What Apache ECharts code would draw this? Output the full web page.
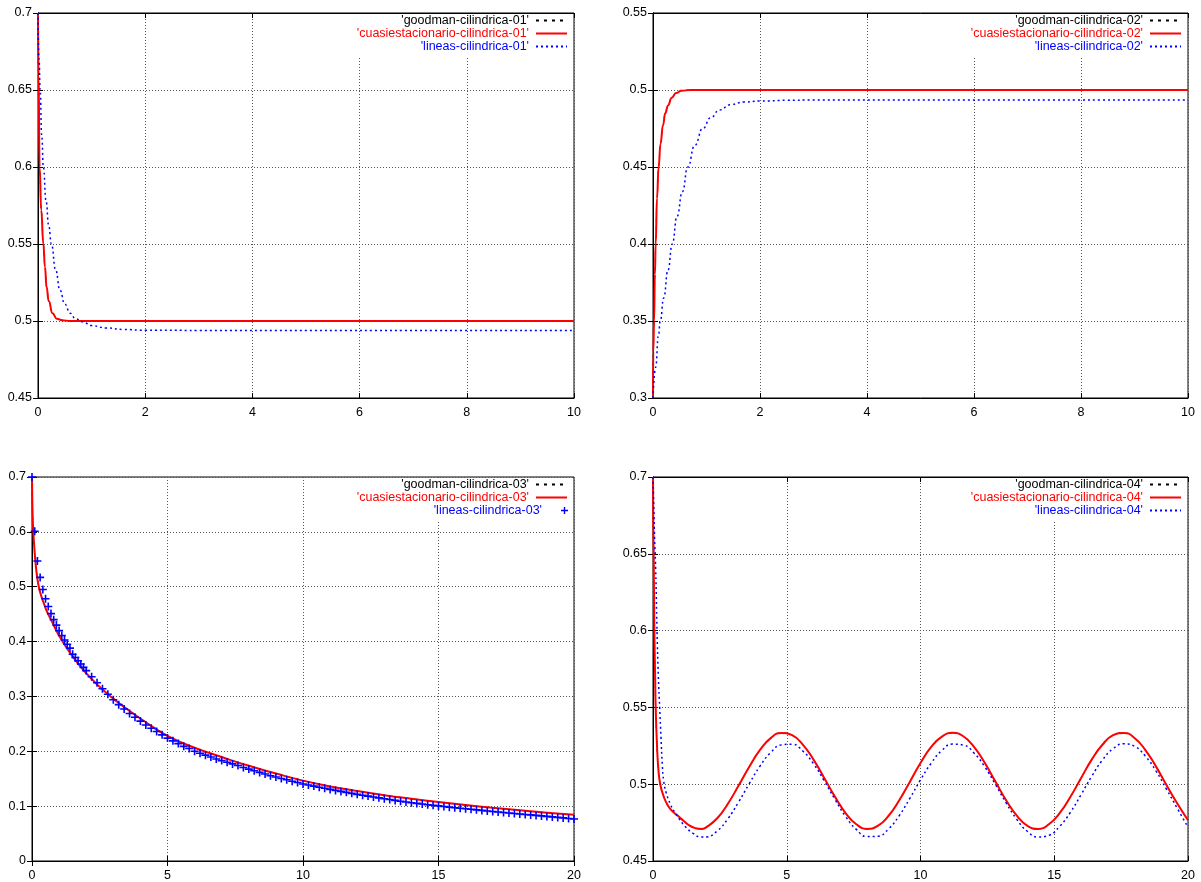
<!DOCTYPE html>
<html>
<head>
<meta charset="utf-8">
<title>cilindrica</title>
<script src="https://cdn.jsdelivr.net/npm/echarts@6/dist/echarts.min.js"></script>
<style>
html, body { margin: 0; padding: 0; background: #fff; }
#main { width: 1201px; height: 882px; }
</style>
</head>
<body>
<div id="main"></div>
<script>
// [x, y] pairs
var cuasi01 = [[0,0.70],[0.01,0.66],[0.03,0.60],[0.06,0.572],[0.1,0.55],[0.13,0.535],[0.16,0.522],[0.2,0.513],[0.27,0.505],[0.35,0.5015],[0.45,0.5005],[0.6,0.5],[1,0.5],[2,0.5],[10,0.5]];
var lineas01 = [[0,0.70],[0.02,0.67],[0.04,0.65],[0.07,0.62],[0.1,0.60],[0.15,0.578],[0.2,0.562],[0.25,0.55],[0.33,0.533],[0.41,0.52],[0.5,0.511],[0.6,0.505],[0.7,0.5015],[0.83,0.4995],[1.0,0.497],[1.27,0.4955],[1.6,0.4945],[2,0.494],[3,0.4939],[10,0.4939]];

var cuasi02 = [[0,0.30],[0.005,0.33],[0.02,0.35],[0.035,0.38],[0.05,0.40],[0.075,0.43],[0.105,0.45],[0.14,0.465],[0.186,0.477],[0.23,0.485],[0.28,0.49],[0.35,0.495],[0.43,0.498],[0.53,0.4995],[0.7,0.5],[2,0.5],[10,0.5]];
var lineas02 = [[0,0.30],[0.05,0.32],[0.1,0.34],[0.136,0.35],[0.2,0.365],[0.28,0.383],[0.36,0.40],[0.45,0.418],[0.55,0.434],[0.65,0.45],[0.78,0.464],[0.93,0.475],[1.08,0.482],[1.24,0.487],[1.45,0.4905],[1.7,0.4922],[2,0.4928],[2.5,0.4933],[3,0.4935],[10,0.4935]];

var cuasi03 = [[0,0.70],[0.01,0.66],[0.03,0.62],[0.05,0.60],[0.08,0.575],[0.12,0.55],[0.17,0.525],[0.25,0.50],[0.35,0.482],[0.45,0.468],[0.55,0.455],[0.7,0.44],[0.9,0.42],[1.17,0.397],[1.5,0.373],[1.9,0.348],[2.4,0.322],[2.9,0.300],[3.5,0.277],[4.2,0.253],[5,0.228],[6,0.2065],[7,0.1895],[8,0.1735],[9,0.1595],[10,0.1465],[11,0.136],[12,0.1275],[13,0.120],[14,0.1135],[15,0.1075],[16,0.102],[17,0.097],[18,0.0925],[19,0.088],[20,0.0841]];
var lineas03 = [[0,0.700],[0.1,0.601],[0.2,0.547],[0.3,0.517],[0.4,0.495],[0.5,0.478],[0.6,0.464],[0.7,0.451],[0.8,0.440],[0.9,0.430],[1.0,0.420],[1.1,0.411],[1.2,0.403],[1.3,0.395],[1.4,0.388],[1.5,0.377],[1.6,0.371],[1.7,0.365],[1.8,0.359],[1.9,0.353],[2.0,0.347],
  [2.2,0.336],[2.4,0.325],[2.6,0.314],[2.8,0.304],[3.0,0.294],[3.2,0.285],[3.4,0.277],[3.6,0.269],[3.8,0.262],[4.0,0.255],[4.2,0.248],[4.4,0.242],[4.6,0.236],[4.8,0.230],[5.0,0.224],
  [5.2,0.219],[5.4,0.214],[5.6,0.209],[5.8,0.205],[6.0,0.200],[6.2,0.1965],[6.4,0.193],[6.6,0.1895],[6.8,0.186],[7.0,0.183],[7.2,0.180],[7.4,0.177],[7.6,0.174],[7.8,0.1705],[8.0,0.1675],
  [8.2,0.1645],[8.4,0.1615],[8.6,0.1585],[8.8,0.1555],[9.0,0.153],[9.2,0.1505],[9.4,0.148],[9.6,0.1455],[9.8,0.143],[10.0,0.1405],
  [10.2,0.1385],[10.4,0.1365],[10.6,0.1345],[10.8,0.1325],[11.0,0.1305],[11.2,0.1287],[11.4,0.1269],[11.6,0.1251],[11.8,0.1233],[12.0,0.1215],
  [12.2,0.1199],[12.4,0.1183],[12.6,0.1167],[12.8,0.1151],[13.0,0.1135],[13.2,0.1120],[13.4,0.1105],[13.6,0.1090],[13.8,0.1076],[14.0,0.1062],
  [14.2,0.1050],[14.4,0.1038],[14.6,0.1026],[14.8,0.1015],[15.0,0.1004],[15.2,0.0993],[15.4,0.0982],[15.6,0.0972],[15.8,0.0962],[16.0,0.0952],
  [16.2,0.0942],[16.4,0.0932],[16.6,0.0922],[16.8,0.0912],[17.0,0.0903],[17.2,0.0894],[17.4,0.0885],[17.6,0.0876],[17.8,0.0867],[18.0,0.0858],
  [18.2,0.0849],[18.4,0.0840],[18.6,0.0831],[18.8,0.0822],[19.0,0.0813],[19.2,0.0804],[19.4,0.0795],[19.6,0.0786],[19.8,0.0776],[20.0,0.0765]];

var cuasi04 = [[0,0.70],[0.01,0.67],[0.025,0.65],[0.05,0.60],[0.08,0.57],[0.1,0.55],[0.15,0.525],[0.2,0.51],[0.27,0.50],[0.4,0.492],[0.56,0.486],[0.75,0.482],[0.93,0.4794],[1.15,0.476],[1.37,0.473],[1.6,0.4713],[1.8,0.4708],
  [2.0,0.4721],[2.4,0.4778],[2.8,0.4873],[3.2,0.4991],[3.6,0.5114],[4.0,0.5223],[4.4,0.5300],[4.8,0.5334],[5.2,0.5319],[5.6,0.5258],[6.0,0.5160],[6.4,0.5041],[6.8,0.4919],[7.2,0.4812],[7.6,0.4739],[8.0,0.4709],
  [8.4,0.4728],[8.8,0.4793],[9.2,0.4894],[9.6,0.5015],[10.0,0.5138],[10.4,0.5243],[10.8,0.5310],[11.2,0.5335],[11.6,0.5312],[12.0,0.5243],[12.4,0.5139],[12.8,0.5017],[13.2,0.4896],[13.6,0.4795],[14.0,0.4729],
  [14.4,0.4709],[14.8,0.4739],[15.2,0.4811],[15.6,0.4917],[16.0,0.5039],[16.4,0.5160],[16.8,0.5257],[17.2,0.5319],[17.6,0.5334],[18.0,0.5301],[18.4,0.5224],[18.8,0.5116],[19.2,0.4993],[19.6,0.4875],[20.0,0.4765]];
var lineas04 = [[0,0.70],[0.03,0.68],[0.06,0.66],[0.1,0.64],[0.15,0.60],[0.2,0.57],[0.25,0.55],[0.3,0.53],[0.35,0.512],[0.4,0.502],[0.5,0.494],[0.65,0.487],[0.8,0.482],[1.0,0.477],[1.2,0.4725],[1.5,0.468],[1.8,0.4656],
  [2.0,0.4657],[2.4,0.4695],[2.8,0.4775],[3.2,0.4884],[3.6,0.5004],[4.0,0.5118],[4.4,0.5206],[4.8,0.5256],[5.2,0.5260],[5.6,0.5216],[6.0,0.5133],[6.4,0.5022],[6.8,0.4902],[7.2,0.4790],[7.6,0.4706],[8.0,0.4659],
  [8.4,0.4661],[8.8,0.4708],[9.2,0.4794],[9.6,0.4907],[10.0,0.5028],[10.4,0.5137],[10.8,0.5220],[11.2,0.5261],[11.6,0.5255],[12.0,0.5203],[12.4,0.5114],[12.8,0.4999],[13.2,0.4878],[13.6,0.4771],[14.0,0.4692],
  [14.4,0.4656],[14.8,0.4667],[15.2,0.4725],[15.6,0.4816],[16.0,0.4931],[16.4,0.5051],[16.8,0.5157],[17.2,0.5231],[17.6,0.5263],[18.0,0.5247],[18.4,0.5184],[18.8,0.5087],[19.2,0.4966],[19.6,0.4843],[20.0,0.4720]];

// the goodman curves sit right under the red ones
var goodman01 = cuasi01;
var goodman02 = cuasi02;
var goodman03 = cuasi03;
var goodman04 = cuasi04;

var suffixes = ['01', '02', '03', '04'];
var goodman = [goodman01, goodman02, goodman03, goodman04];
var cuasi = [cuasi01, cuasi02, cuasi03, cuasi04];
var lineas = [lineas01, lineas02, lineas03, lineas04];
var xRange = [[0, 10, 2], [0, 10, 2], [0, 20, 5], [0, 20, 5]];
var yRange = [[0.45, 0.7, 0.05], [0.3, 0.55, 0.05], [0, 0.7, 0.1], [0.45, 0.7, 0.05]];

var FONT = "'Liberation Sans', Arial, sans-serif";
var PLUS = 'path://M4,0h2v4h4v2h-4v4h-2v-4h-4v-2h4z';

// plot boxes: left, top, right, bottom in pixels
var boxes = [
    [38, 13, 574, 398],
    [653, 13, 1188, 398],
    [32, 477, 574, 862],
    [653, 477, 1188, 862]
];

var grids = [], xAxes = [], yAxes = [], series = [], legends = [], graphics = [];

function build_plot(i) {
    var b = boxes[i];
    var sfx = suffixes[i];
    // the first two plots have a sharp knee, keep those from overshooting
    var mono = (i < 2) ? 'x' : undefined;
    grids.push({
	left: b[0], top: b[1], width: b[2] - b[0], height: b[3] - b[1],
	show: true, borderColor: '#000', borderWidth: 1, backgroundColor: 'transparent'
    });
    var grid_line = { show: true, lineStyle: { color: '#555', type: [1, 2], width: 1 } };
    xAxes.push({
	type: 'value', gridIndex: i, position: 'bottom',
	min: xRange[i][0], max: xRange[i][1], interval: xRange[i][2],
	axisLine: { lineStyle: { color: '#000' } },
	axisTick: { inside: true, length: 5, lineStyle: { color: '#000' } },
	axisLabel: { color: '#000', fontFamily: FONT, fontSize: 12.5, margin: 8 },
	splitLine: grid_line
    });
    xAxes.push({
	type: 'value', gridIndex: i, position: 'top',
	min: xRange[i][0], max: xRange[i][1], interval: xRange[i][2],
	axisLine: { lineStyle: { color: '#000' } },
	axisTick: { inside: true, length: 5, lineStyle: { color: '#000' } },
	axisLabel: { show: false }, splitLine: { show: false }
    });
    yAxes.push({
	type: 'value', gridIndex: i, position: 'left',
	min: yRange[i][0], max: yRange[i][1], interval: yRange[i][2],
	axisLine: { show: true, lineStyle: { color: '#000' } },
	axisTick: { show: true, inside: true, length: 5, lineStyle: { color: '#000' } },
	axisLabel: { color: '#000', fontFamily: FONT, fontSize: 12.5, margin: 6 },
	splitLine: grid_line
    });
    yAxes.push({
	type: 'value', gridIndex: i, position: 'right',
	min: yRange[i][0], max: yRange[i][1], interval: yRange[i][2],
	axisLine: { show: true, lineStyle: { color: '#000' } },
	axisTick: { show: true, inside: true, length: 5, lineStyle: { color: '#000' } },
	axisLabel: { show: false }, splitLine: { show: false }
    });

    var xi = 2 * i, yi = 2 * i;
    var nGood = "'goodman-cilindrica-" + sfx + "'";
    var nCuasi = "'cuasiestacionario-cilindrica-" + sfx + "'";
    var nLin = "'lineas-cilindrica-" + sfx + "'";
    series.push({
	name: nGood, type: 'line', xAxisIndex: xi, yAxisIndex: yi, data: goodman[i],
	symbol: 'none', smooth: 0.5, smoothMonotone: mono, z: 2,
	lineStyle: { color: '#000', width: 1, type: [3, 5] }, itemStyle: { color: '#000' }
    });
    series.push({
	name: nCuasi, type: 'line', xAxisIndex: xi, yAxisIndex: yi, data: cuasi[i],
	symbol: 'none', smooth: 0.5, smoothMonotone: mono, z: 3,
	lineStyle: { color: '#ff0000', width: 2 }, itemStyle: { color: '#ff0000' }
    });
    if (i == 2) {
	series.push({
	    name: nLin, type: 'scatter', xAxisIndex: xi, yAxisIndex: yi, data: lineas[i],
	    symbol: PLUS, symbolSize: 8, z: 4,
	    itemStyle: { color: '#0000ff', opacity: 1 }
	});
    } else {
	series.push({
	    name: nLin, type: 'line', xAxisIndex: xi, yAxisIndex: yi, data: lineas[i],
	    symbol: 'none', smooth: 0.5, smoothMonotone: mono, z: 4,
	    lineStyle: { color: '#0000ff', width: 1.5, type: [2, 3] }, itemStyle: { color: '#0000ff' }
	});
    }

    // key, one legend per row so the samples line up on the right
    var right = 1201 - b[2] + 6;
    var names = [nGood, nCuasi, nLin];
    var colors = ['#000', '#ff0000', '#0000ff'];
    for (var r = 0; r < 3; r++) {
	var isPlus = (i == 2 && r == 2);
	legends.push({
	    data: [names[r]], right: right, top: b[1] + 1 + r * 13,
	    orient: 'vertical', align: 'right', padding: 0, selectedMode: false,
	    itemWidth: 31, itemHeight: isPlus ? 7 : 12, itemGap: 0,
	    itemStyle: isPlus ? {} : { opacity: 0 },
	    textStyle: { color: colors[r], fontFamily: FONT, fontSize: 12.5, padding: [0, 2, 0, 0] }
	});
    }
    // white box behind the key hides the grid lines
    graphics.push({
	type: 'rect', z: 1, silent: true,
	shape: { x: b[2] - 220, y: b[1] + 1, width: 219, height: 43 },
	style: { fill: '#fff' }
    });
}

for (var i = 0; i < 4; i++) build_plot(i);

var chart = echarts.init(document.getElementById('main'), null, { renderer: 'canvas' });
chart.setOption({
    animation: false,
    backgroundColor: '#fff',
    grid: grids,
    xAxis: xAxes,
    yAxis: yAxes,
    legend: legends,
    graphic: graphics,
    series: series
});
</script>
</body>
</html>
